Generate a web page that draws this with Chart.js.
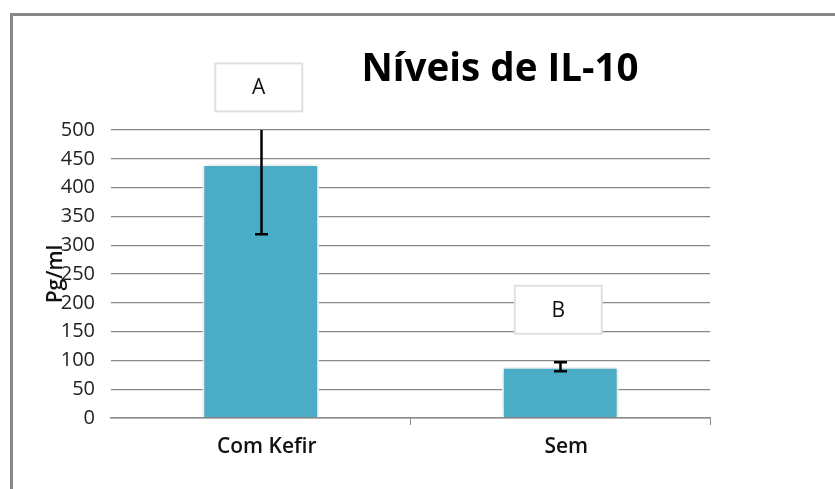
<!DOCTYPE html>
<html>
<head>
<meta charset="utf-8">
<script src="https://cdn.jsdelivr.net/npm/chart.js@4.4.1/dist/chart.umd.min.js"></script>
<style>
  html, body { margin: 0; padding: 0; background: #fff; }
  #wrap { width: 835px; height: 489px; position: relative; }
</style>
</head>
<body>
<div id="wrap"><canvas id="c" width="835" height="489"></canvas></div>
<script>
// ---- data ----
const categories = ['Com Kefir', 'Sem'];
const values = [441, 89];
const errors = [122, 8];
const groupLetters = ['A', 'B'];
const letterLevels = [574, 188];   // value level where the letter box sits
const yTicks = [0, 50, 100, 150, 200, 250, 300, 350, 400, 450, 500];
const chartTitle = 'Níveis de IL-10';
const yTitle = 'Pg/ml';

const frame = {
  id: 'frame',
  beforeDraw(chart) {
    const ctx = chart.ctx;
    ctx.save();
    ctx.fillStyle = '#fff';
    ctx.fillRect(0, 0, chart.width, chart.height);
    ctx.strokeStyle = '#878787';
    ctx.lineWidth = 3;
    ctx.beginPath();
    ctx.moveTo(11.5, chart.height);
    ctx.lineTo(11.5, 14.5);
    ctx.lineTo(chart.width, 14.5);
    ctx.stroke();
    // title
    ctx.fillStyle = '#000';
    ctx.font = 'bold 40px "Open Sans"';
    ctx.textAlign = 'center';
    ctx.textBaseline = 'alphabetic';
    const w = ctx.measureText(chartTitle).width;
    const sx = 277 / w;
    ctx.translate(500, 81);
    ctx.scale(sx, 1);
    ctx.fillText(chartTitle, 0, 0);
    ctx.restore();
  }
};

const shadow = {
  id: 'shadow',
  beforeDatasetsDraw(chart) {
    const ctx = chart.ctx;
    ctx.save();
    ctx.shadowColor = 'rgba(0,0,0,0.22)';
    ctx.shadowBlur = 5;
    ctx.shadowOffsetX = 0;
    ctx.shadowOffsetY = 0;
  },
  afterDatasetsDraw(chart) {
    chart.ctx.restore();
  }
};

const extras = {
  id: 'extras',
  afterDatasetsDraw(chart) {
    const ctx = chart.ctx;
    const y = chart.scales.y;
    const area = chart.chartArea;
    const meta = chart.getDatasetMeta(0);
    ctx.save();
    // error bars
    ctx.strokeStyle = '#000';
    ctx.lineWidth = 2.5;
    meta.data.forEach((bar, i) => {
      const x = Math.round(bar.x) + 0.5;
      const hiV = values[i] + errors[i];
      const loV = values[i] - errors[i];
      const yHi = y.getPixelForValue(hiV);
      const yLo = y.getPixelForValue(loV);
      const top = Math.max(yHi, area.top);
      ctx.beginPath();
      ctx.moveTo(x, top);
      ctx.lineTo(x, yLo);
      ctx.stroke();
      ctx.beginPath();
      ctx.moveTo(x - 6.5, yLo);
      ctx.lineTo(x + 6.5, yLo);
      if (yHi >= area.top) {
        ctx.moveTo(x - 6.5, yHi);
        ctx.lineTo(x + 6.5, yHi);
      }
      ctx.stroke();
    });
    // letter boxes
    meta.data.forEach((bar, i) => {
      const cx = bar.x - 2;
      const cy = y.getPixelForValue(letterLevels[i]);
      const bw = 87, bh = 48;
      ctx.fillStyle = '#fff';
      ctx.fillRect(cx - bw / 2, cy - bh / 2, bw, bh);
      ctx.strokeStyle = '#e0e0e0';
      ctx.lineWidth = 2;
      ctx.strokeRect(cx - bw / 2, cy - bh / 2, bw, bh);
      ctx.fillStyle = '#111';
      ctx.font = '21px "Open Sans"';
      ctx.textAlign = 'center';
      ctx.textBaseline = 'middle';
      ctx.fillText(groupLetters[i], cx, cy + 1);
    });
    ctx.restore();
  }
};

new Chart(document.getElementById('c'), {
  type: 'bar',
  data: {
    labels: categories,
    datasets: [{
      data: values,
      backgroundColor: '#4BACC6',
      borderColor: '#ffffff',
      borderWidth: 2,
      categoryPercentage: 1,
      barPercentage: 0.39
    }]
  },
  options: {
    responsive: false,
    animation: false,
    devicePixelRatio: 1,
    layout: { padding: { left: 0, right: 125, top: 130, bottom: 0 } },
    plugins: {
      legend: { display: false },
      title: { display: false },
      tooltip: { enabled: false }
    },
    scales: {
      x: {
        offset: true,
        grid: {
          display: true,
          offset: true,
          drawOnChartArea: false,
          drawTicks: true,
          tickLength: 7,
          color: (c) => c.index === 0 ? 'rgba(0,0,0,0)' : '#888'
        },
        border: { display: true, color: '#888', width: 1.5 },
        ticks: {
          color: '#111',
          font: { family: '"Open Sans"', size: 21, weight: '600' },
          padding: 9,
          labelOffset: 6
        },
        afterFit(scale) { scale.height = 71; }
      },
      y: {
        min: 0,
        max: 500,
        afterBuildTicks(scale) { scale.ticks = yTicks.map(v => ({ value: v })); },
        grid: { color: '#888', lineWidth: 1.3, drawTicks: false },
        border: { display: false },
        ticks: {
          color: '#222',
          font: { family: '"Open Sans"', size: 20 },
          padding: 16
        },
        title: {
          display: true,
          text: yTitle,
          color: '#111',
          font: { family: '"Open Sans"', size: 21, weight: '600' },
          padding: { top: 43, bottom: 0 }
        },
        afterFit(scale) { scale.width = 111; }
      }
    }
  },
  plugins: [frame, shadow, extras]
});
</script>
</body>
</html>
